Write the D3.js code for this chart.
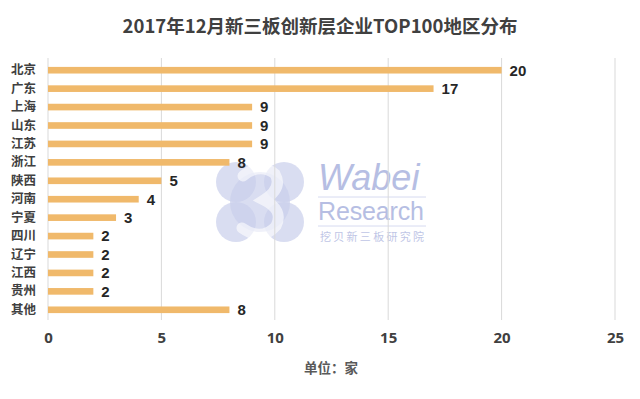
<!DOCTYPE html>
<html><head><meta charset="utf-8">
<script src="https://cdn.jsdelivr.net/npm/d3@7"></script>
<style>
html,body{margin:0;padding:0;background:#fff;}
svg{display:block;font-family:"Noto Sans CJK SC","Open Sans",sans-serif;}
</style></head>
<body>
<svg id="chart" width="640" height="399"></svg>
<script>
const categories = ["北京","广东","上海","山东","江苏","浙江","陕西","河南","宁夏","四川","辽宁","江西","贵州","其他"];
const values = [20,17,9,9,9,8,5,4,3,2,2,2,2,8];
const xTicks = [0,5,10,15,20,25];
const title = "2017年12月新三板创新层企业TOP100地区分布";
const unitLabel = "单位：家";

const svg = d3.select("#chart");
const x = d3.scaleLinear().domain([0,25]).range([48,615]);
const y = d3.scaleBand().domain(categories).range([61,319]).paddingInner(0.64).paddingOuter(0.32);

// watermark logo (drawn shapes)
const wm = svg.append("g").attr("class","watermark");
const lav = "#c9cfeb";
[[236,182,20],[284,182,20],[236,222,20],[284,222,20],[260,202,30]].forEach(c=>{
  wm.append("circle").attr("cx",c[0]).attr("cy",c[1]).attr("r",c[2]).attr("fill",lav).attr("opacity",0.7);
});
wm.append("path")
  .attr("d","M243,176 Q260,162 275,174 Q283,188 264,200 Q284,210 276,226 Q262,242 242,228")
  .attr("fill","none").attr("stroke","#ffffff").attr("stroke-width",11).attr("stroke-linecap","round")
  .attr("opacity",0.6);
wm.append("text").attr("x",318).attr("y",190).attr("font-size",36).attr("font-style","italic")
  .attr("font-family","Liberation Sans").attr("fill","#b6bee3").text("Wabei");
wm.append("line").attr("x1",318).attr("x2",426).attr("y1",197).attr("y2",197).attr("stroke","#d6daf0");
wm.append("text").attr("x",318).attr("y",220).attr("font-size",25)
  .attr("font-family","Liberation Sans").attr("fill","#b6bee3").attr("textLength",106).text("Research");
wm.append("line").attr("x1",318).attr("x2",426).attr("y1",226).attr("y2",226).attr("stroke","#d6daf0");
wm.append("text").attr("x",320).attr("y",241).attr("font-size",11)
  .attr("fill","#c0c6e6").attr("textLength",104).text("挖贝新三板研究院");

// gridlines
svg.append("g").selectAll("line").data(xTicks).join("line")
  .attr("x1",d=>x(d)).attr("x2",d=>x(d)).attr("y1",58).attr("y2",320)
  .attr("stroke","#d9d9d9").attr("stroke-width",1);

// bars
svg.append("g").selectAll("rect").data(values).join("rect")
  .attr("x",x(0)).attr("y",(d,i)=>y(categories[i]))
  .attr("width",d=>x(d)-x(0)).attr("height",y.bandwidth())
  .attr("fill","#f0b96b");

// value labels
svg.append("g").selectAll("text").data(values).join("text")
  .attr("x",d=>x(d)+8).attr("y",(d,i)=>y(categories[i])+y.bandwidth()/2)
  .attr("dy","0.36em").attr("font-size",15).attr("font-weight","bold")
  .attr("font-family","Liberation Sans")
  .attr("fill","#262626").text(d=>d);

// y axis labels
const yAxis = d3.axisLeft(y).tickSize(0).tickPadding(0);
const gy = svg.append("g").attr("transform","translate(36,0)").call(yAxis);
gy.select(".domain").remove();
gy.selectAll("text").attr("font-size",12.5).attr("font-weight","bold").attr("fill","#404040")
  .attr("font-family","Noto Sans CJK SC");

// x axis
const xAxis = d3.axisBottom(x).tickValues(xTicks).tickSize(0).tickPadding(0);
const gx = svg.append("g").attr("transform","translate(0,332)").call(xAxis);
gx.select(".domain").remove();
gx.selectAll("text").attr("font-size",15).attr("font-weight","bold").attr("fill","#404040")
  .attr("font-family","Open Sans");

// unit label
svg.append("text").attr("x",331).attr("y",373).attr("text-anchor","middle")
  .attr("font-size",13.5).attr("font-weight","bold").attr("fill","#595959").text(unitLabel);

// title
svg.append("text").attr("x",320).attr("y",33).attr("text-anchor","middle")
  .attr("font-size",18.5).attr("font-weight","bold").attr("fill","#404040").text(title);
</script>
</body></html>
